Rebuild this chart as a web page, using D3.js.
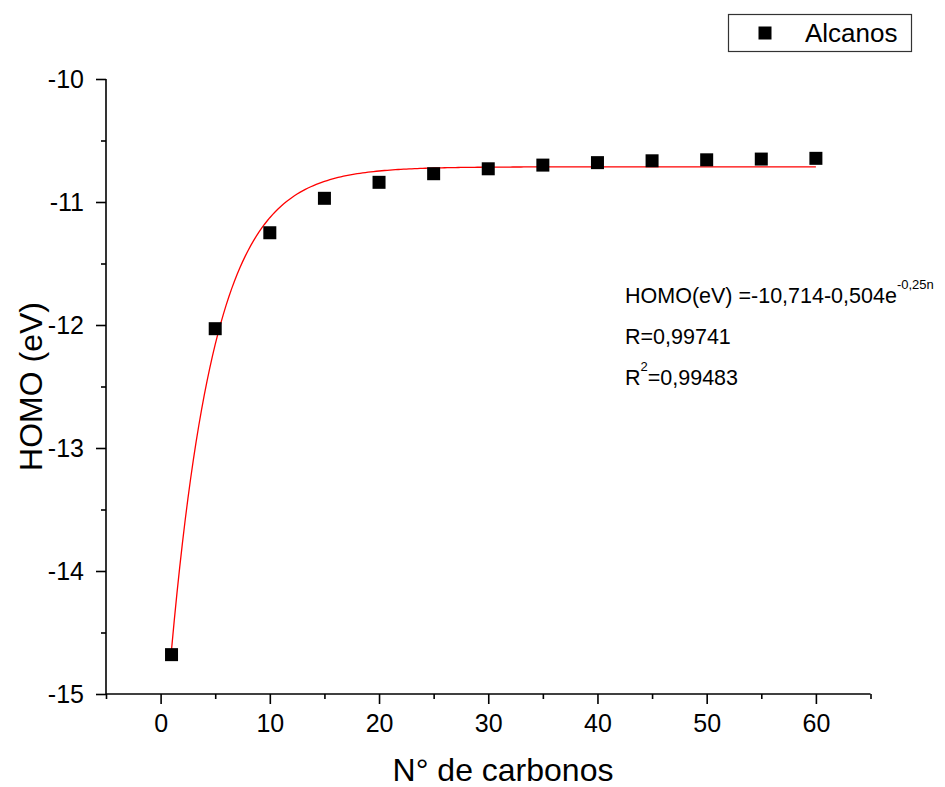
<!DOCTYPE html>
<html>
<head>
<meta charset="utf-8">
<script src="https://cdn.jsdelivr.net/npm/d3@7/dist/d3.min.js"></script>
<style>
  html, body { margin: 0; padding: 0; background: #fff; }
  svg { display: block; font-family: "Liberation Sans", Arial, sans-serif; }
</style>
</head>
<body>
<svg id="chart" width="945" height="787"></svg>
<script>
// Number of carbon atoms in each alkane
const carbons = [1, 5, 10, 15, 20, 25, 30, 35, 40, 45, 50, 55, 60];
// HOMO energy (eV) for each chain length
const homo = [-14.68, -12.03, -11.25, -10.97, -10.84, -10.77, -10.73, -10.70, -10.68, -10.665, -10.657, -10.651, -10.645];

// Exponential fit: HOMO = y0 + A * exp(-k n)
const fitY0 = -10.714;
const fitA = -5.04;
const fitK = 0.25;

const xTicks = [0, 10, 20, 30, 40, 50, 60];
const xMinorTicks = [-5, 5, 15, 25, 35, 45, 55, 65];
const yTicks = [-15, -14, -13, -12, -11, -10];
const yMinorTicks = [-14.5, -13.5, -12.5, -11.5, -10.5];

const seriesName = "Alcanos";
const xTitle = "N° de carbonos";
const yTitle = "HOMO (eV)";

const svg = d3.select("#chart");

const x = d3.scaleLinear().domain([-5, 65]).range([106, 870.5]);
const y = d3.scaleLinear().domain([-15, -10]).range([694, 79]);

const axisColor = "#000";
// integer labels with a plain hyphen as minus sign
const fmt = d => String(d);

// X axis
const xAxisG = svg.append("g").attr("transform", `translate(0,${y(-15)})`);
xAxisG.call(d3.axisBottom(x).tickValues(xTicks).tickSize(10).tickPadding(10).tickFormat(fmt));
xAxisG.append("g").call(d3.axisBottom(x).tickValues(xMinorTicks).tickSize(5).tickFormat(""))
  .select(".domain").remove();

// Y axis
const yAxisG = svg.append("g").attr("transform", `translate(${x(-5)},0)`);
yAxisG.call(d3.axisLeft(y).tickValues(yTicks).tickSize(10).tickPadding(12).tickFormat(fmt));
yAxisG.append("g").call(d3.axisLeft(y).tickValues(yMinorTicks).tickSize(5).tickFormat(""))
  .select(".domain").remove();

svg.selectAll(".domain").attr("stroke", axisColor).attr("stroke-width", 1.6);
svg.selectAll(".tick line").attr("stroke", axisColor).attr("stroke-width", 1.6);
svg.selectAll(".tick text")
  .attr("fill", "#000")
  .style("font-family", "'Liberation Sans', Arial, sans-serif")
  .style("font-size", "25px");
// plain axis lines without end caps
xAxisG.select(".domain").attr("d", `M${x(-5)},0H${x(65)}`);
yAxisG.select(".domain").attr("d", `M0,${y(-15)}V${y(-10)}`);

// Axis titles
svg.append("text")
  .attr("x", 503)
  .attr("y", 781)
  .attr("text-anchor", "middle")
  .style("font-size", "32px")
  .text(xTitle);

svg.append("text")
  .attr("transform", `translate(42,${(y(-15) + y(-10)) / 2}) rotate(-90)`)
  .attr("text-anchor", "middle")
  .style("font-size", "32px")
  .text(yTitle);

// Fitted curve
const fitN = d3.range(1, 60.01, 0.25);
const line = d3.line()
  .x(n => x(n))
  .y(n => y(fitY0 + fitA * Math.exp(-fitK * n)));
svg.append("path")
  .datum(fitN)
  .attr("d", line)
  .attr("fill", "none")
  .attr("stroke", "#ff0000")
  .attr("stroke-width", 1.3);

// Data markers
const ms = 13;
svg.append("g").selectAll("rect")
  .data(carbons.map((c, i) => [c, homo[i]]))
  .join("rect")
  .attr("x", d => x(d[0]) - ms / 2)
  .attr("y", d => y(d[1]) - ms / 2)
  .attr("width", ms)
  .attr("height", ms)
  .attr("fill", "#000");

// Fit annotation
const ann = svg.append("g").style("font-size", "21.5px");
const eq = ann.append("text").attr("x", 625).attr("y", 303);
eq.append("tspan").text("HOMO(eV) =-10,714-0,504e");
eq.append("tspan").attr("dy", -14).style("font-size", "13px").text("-0,25n");

ann.append("text").attr("x", 625).attr("y", 344).text("R=0,99741");

const r2 = ann.append("text").attr("x", 625).attr("y", 385);
r2.append("tspan").text("R");
r2.append("tspan").attr("dy", -14).style("font-size", "13px").text("2");
r2.append("tspan").attr("dy", 14).text("=0,99483");

// Legend
const lg = svg.append("g");
lg.append("rect")
  .attr("x", 728.5).attr("y", 14.5).attr("width", 183).attr("height", 37)
  .attr("fill", "#fff").attr("stroke", "#333").attr("stroke-width", 1.2);
lg.append("rect")
  .attr("x", 765 - ms / 2).attr("y", 33 - ms / 2).attr("width", ms).attr("height", ms)
  .attr("fill", "#000");
lg.append("text")
  .attr("x", 805).attr("y", 42)
  .style("font-size", "26px")
  .text(seriesName);
</script>
</body>
</html>
